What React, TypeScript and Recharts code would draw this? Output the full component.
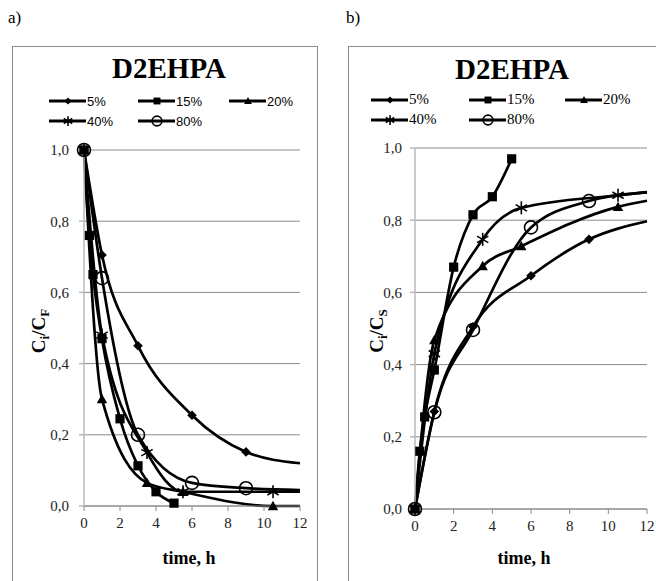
import React from 'react';
import { LineChart, Line, XAxis, YAxis, CartesianGrid } from 'recharts';

// ---------- data ----------
const seriesNames = ['5%', '15%', '20%', '40%', '80%'];
const markerKinds = ['diamond', 'square', 'triangle', 'star', 'circle'];
const xTicks = [0, 2, 4, 6, 8, 10, 12];
const yTicks = [0, 0.2, 0.4, 0.6, 0.8, 1.0];

// Panel a) : Ci/CF vs time
const a5Time = [0, 1, 3, 6, 9];
const a5Val = [1.0, 0.705, 0.45, 0.255, 0.152];
const a5Tail = 0.12;
const a15Time = [0, 0.3, 0.5, 1, 2, 3, 4, 5];
const a15Val = [1.0, 0.76, 0.65, 0.47, 0.245, 0.113, 0.04, 0.008];
const a20Time = [0, 1, 3.5, 5.5, 10.5];
const a20Val = [1.0, 0.3, 0.065, 0.04, 0.0];
const a20Tail = 0.0;
const a40Time = [0, 1, 3.5, 5.5, 10.5];
const a40Val = [1.0, 0.48, 0.15, 0.04, 0.04];
const a40Tail = 0.04;
const a80Time = [0, 1, 3, 6, 9];
const a80Val = [1.0, 0.64, 0.2, 0.065, 0.05];
const a80Tail = 0.045;

// Panel b) : Ci/CS vs time
const b5Time = [0, 1, 3, 6, 9];
const b5Val = [0.0, 0.27, 0.505, 0.646, 0.747];
const b5Tail = 0.797;
const b15Time = [0, 0.25, 0.5, 1, 2, 3, 4, 5];
const b15Val = [0.0, 0.16, 0.255, 0.385, 0.67, 0.815, 0.865, 0.97];
const b20Time = [0, 1, 3.5, 5.5, 10.5];
const b20Val = [0.0, 0.468, 0.673, 0.728, 0.837];
const b20Tail = 0.854;
const b40Time = [0, 1, 3.5, 5.5, 10.5];
const b40Val = [0.0, 0.43, 0.747, 0.834, 0.869];
const b40Tail = 0.878;
const b80Time = [0, 1, 3, 6, 9];
const b80Val = [0.0, 0.268, 0.496, 0.78, 0.853];
const b80Tail = 0.877;

type Pt = { x: number; y: number; m: boolean };
function build(times: number[], vals: number[], tail?: number): Pt[] {
  const pts: Pt[] = times.map((t, i) => ({ x: t, y: vals[i], m: true }));
  if (tail !== undefined) pts.push({ x: 12, y: tail, m: false });
  return pts;
}

const panelA = [
  build(a5Time, a5Val, a5Tail),
  build(a15Time, a15Val),
  build(a20Time, a20Val, a20Tail),
  build(a40Time, a40Val, a40Tail),
  build(a80Time, a80Val, a80Tail),
];
const panelB = [
  build(b5Time, b5Val, b5Tail),
  build(b15Time, b15Val),
  build(b20Time, b20Val, b20Tail),
  build(b40Time, b40Val, b40Tail),
  build(b80Time, b80Val, b80Tail),
];

// ---------- styles ----------
const SERIF = "'Liberation Serif', 'Times New Roman', Tinos";
const SANS = "'Liberation Sans', Arial";
const GRID = '#8a8a8a';
const AXIS_Y = '#b8b8b8';

function Marker({ kind, cx, cy, s = 1 }: { kind: string; cx: number; cy: number; s?: number }) {
  if (kind === 'diamond') {
    const r = 4.8 * s;
    return <polygon points={`${cx},${cy - r} ${cx + r},${cy} ${cx},${cy + r} ${cx - r},${cy}`} fill="#000" />;
  }
  if (kind === 'square') {
    const h = 4.6 * s;
    return <rect x={cx - h} y={cy - h} width={2 * h} height={2 * h} fill="#000" />;
  }
  if (kind === 'triangle') {
    const t = 5.2 * s;
    return <polygon points={`${cx},${cy - t} ${cx + t},${cy + t * 0.8} ${cx - t},${cy + t * 0.8}`} fill="#000" />;
  }
  if (kind === 'star') {
    const r = 6.5 * s;
    const dx = r * 0.87;
    const dy = r * 0.5;
    return (
      <g stroke="#000" strokeWidth={1.6}>
        <line x1={cx} y1={cy - r} x2={cx} y2={cy + r} />
        <line x1={cx - dx} y1={cy - dy} x2={cx + dx} y2={cy + dy} />
        <line x1={cx - dx} y1={cy + dy} x2={cx + dx} y2={cy - dy} />
      </g>
    );
  }
  return <circle cx={cx} cy={cy} r={6.5 * s} fill="none" stroke="#000" strokeWidth={1.6} />;
}

const makeDot = (kind: string, tag: string) => (props: any) => {
  const { cx, cy, payload, index } = props;
  if (!payload || !payload.m || cx == null || cy == null) return <g key={`${tag}-${index}`} />;
  return (
    <g key={`${tag}-${index}`}>
      <Marker kind={kind} cx={cx} cy={cy} />
    </g>
  );
};

const fmtY = (v: number) => v.toFixed(1).replace('.', ',');

const TickText = (props: any) => {
  const { x, y, payload, textAnchor, fmt } = props;
  return (
    <text x={x} y={y} dy="0.355em" textAnchor={textAnchor} fill="#222" fontFamily="Liberation Serif" fontSize={15}>
      {fmt ? fmt(payload.value) : String(payload.value)}
    </text>
  );
};

function Panel({
  series, left, width, yAxisW, marginRight, top, bottom, tag, tickMargin,
}: {
  series: Pt[][]; left: number; width: number; yAxisW: number; marginRight: number;
  top: number; bottom: number; tag: string; tickMargin: number;
}) {
  return (
    <div style={{ position: 'absolute', left, top: 0 }}>
      <LineChart width={width} height={581} margin={{ top, right: marginRight, bottom: 0, left: 0 }}>
        <CartesianGrid vertical={false} stroke={GRID} strokeWidth={1} />
        <XAxis
          type="number" dataKey="x" domain={[0, 12]} ticks={xTicks} height={581 - bottom}
          stroke={GRID} tickSize={5} tickMargin={12}
          tick={<TickText />}
        />
        <YAxis
          type="number" dataKey="y" domain={[0, 1]} ticks={yTicks} width={yAxisW}
          stroke={AXIS_Y} strokeWidth={1.5} tickSize={5} tickMargin={tickMargin}
          tick={<TickText fmt={fmtY} />}
        />
        {series.map((d, i) => (
          <Line
            key={`${tag}-${i}`}
            data={d}
            dataKey="y"
            type="monotone"
            stroke="#000"
            strokeWidth={2.7}
            isAnimationActive={false}
            dot={makeDot(markerKinds[i], `${tag}-${i}`)}
            activeDot={false}
          />
        ))}
      </LineChart>
    </div>
  );
}

// HTML text placed by baseline
function HText({ x, y, size, bold = false, family = SERIF, anchor = 'start', children, asc = 0.8375 }: any) {
  const tx = anchor === 'middle' ? 'translateX(-50%)' : anchor === 'end' ? 'translateX(-100%)' : 'none';
  return (
    <div
      style={{
        position: 'absolute', left: x, top: y - asc * size, fontFamily: family, fontSize: size,
        fontWeight: bold ? 700 : 400, lineHeight: 1, whiteSpace: 'nowrap', color: '#000', transform: tx,
      }}
    >
      {children}
    </div>
  );
}

function LegendRow({ items, serif }: { items: { x: number; y: number }[]; serif: boolean }) {
  return (
    <>
      <svg width={656} height={581} style={{ position: 'absolute', left: 0, top: 0, pointerEvents: 'none' }}>
        {items.map((p, i) => (
          <g key={i}>
            <line x1={p.x} y1={p.y} x2={p.x + 37} y2={p.y} stroke="#000" strokeWidth={3} />
            <Marker kind={markerKinds[i]} cx={p.x + 19} cy={p.y} s={0.75} />
          </g>
        ))}
      </svg>
      {items.map((p, i) => (
        <HText
          key={`t${i}`} x={p.x + 38} y={p.y + 5} size={serif ? 15 : 13}
          family={serif ? SERIF : SANS} asc={serif ? 0.8375 : 0.8465}
        >
          {seriesNames[i]}
        </HText>
      ))}
    </>
  );
}

function YTitle({ x, y, sub }: { x: number; y: number; sub: string }) {
  return (
    <div
      style={{
        position: 'absolute', left: x, top: y, transform: 'translate(-50%, -50%) rotate(-90deg)',
        fontFamily: SERIF, fontWeight: 700, fontSize: 19, lineHeight: 1, whiteSpace: 'nowrap', color: '#000',
      }}
    >
      C<sub style={{ fontSize: 13 }}>i</sub>/C<sub style={{ fontSize: 13 }}>{sub}</sub>
    </div>
  );
}

export default function App() {
  const legendA = [
    { x: 49, y: 101 }, { x: 138, y: 101 }, { x: 229, y: 101 },
    { x: 49, y: 121 }, { x: 138, y: 121 },
  ];
  const legendB = [
    { x: 371, y: 100 }, { x: 469, y: 100 }, { x: 565, y: 100 },
    { x: 371, y: 120 }, { x: 469, y: 120 },
  ];
  return (
    <div style={{ position: 'absolute', left: 0, top: 0, width: 656, height: 581, background: '#fff', overflow: 'hidden' }}>
      {/* frames */}
      <div style={{ position: 'absolute', left: 12, top: 46, width: 304, height: 560, border: '1.5px solid #8c8c8c' }} />
      <div style={{ position: 'absolute', left: 348, top: 46, width: 330, height: 560, border: '1.5px solid #8c8c8c' }} />

      <Panel series={panelA} left={0} width={330} yAxisW={84} marginRight={30} top={150} bottom={506} tag="a" tickMargin={10} />
      <Panel series={panelB} left={340} width={316} yAxisW={75} marginRight={9} top={148} bottom={509} tag="b" tickMargin={8} />

      <HText x={8} y={23} size={17}>a)</HText>
      <HText x={346} y={23} size={17}>b)</HText>

      <HText x={169} y={78} size={29} bold anchor="middle">D2EHPA</HText>
      <HText x={512} y={79} size={29} bold anchor="middle">D2EHPA</HText>

      <LegendRow items={legendA} serif={false} />
      <LegendRow items={legendB} serif={true} />

      <YTitle x={40} y={331} sub="F" />
      <YTitle x={378} y={331} sub="S" />

      <HText x={189} y={564} size={18} bold anchor="middle">time, h</HText>
      <HText x={524} y={564} size={18} bold anchor="middle">time, h</HText>
    </div>
  );
}
